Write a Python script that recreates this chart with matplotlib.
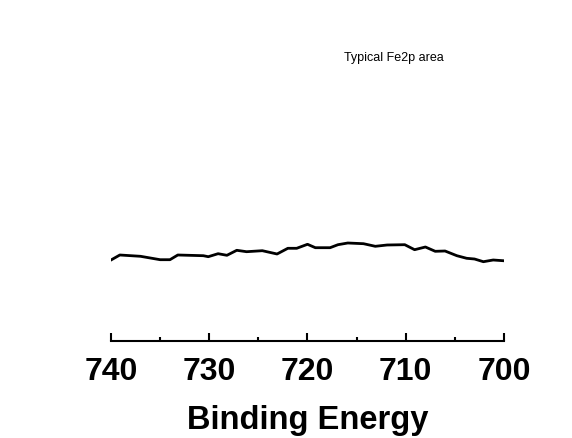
import matplotlib
matplotlib.use("Agg")
import matplotlib.pyplot as plt
from matplotlib.ticker import MultipleLocator

# Fe2p region (binding energy, intensity in arbitrary units)
energy = [740.0, 739.1, 737.0, 735.0, 734.0, 733.2, 730.6, 730.1, 729.1, 728.2,
          727.2, 726.2, 724.6, 723.1, 722.0, 721.1, 720.0, 719.2, 717.7, 716.9,
          715.9, 714.3, 713.1, 711.9, 710.1, 709.1, 708.0, 707.0, 706.0, 704.8,
          703.8, 703.0, 702.1, 701.1, 700.1]
intensity = [81, 86, 84.7, 81.3, 81.3, 86, 85.3, 84.3, 87.3, 85.7,
             90.7, 89.3, 90.3, 87, 92.7, 92.7, 96.7, 93.3, 93.3, 96.3,
             98, 97.3, 94.7, 96, 96.3, 91.3, 94, 89.7, 90, 85.3,
             82.7, 82, 79.3, 81, 80.3]
ticks = [740, 730, 720, 710, 700]

fig = plt.figure(figsize=(5.72, 4.39), dpi=100)
ax = fig.add_axes([111/572, 1-342/439, 393/572, 320/439])
ax.plot(energy, intensity, color="black", lw=2.0)
ax.set_xlim(740, 700)
ax.set_ylim(0, 320)

for s in ["top", "left", "right"]:
    ax.spines[s].set_visible(False)
ax.spines["bottom"].set_linewidth(1.5)
ax.set_yticks([])
ax.set_xticks(ticks)
ax.xaxis.set_minor_locator(MultipleLocator(5))
ax.tick_params(axis="x", which="major", direction="in", length=6, width=1.5,
               labelsize=23, pad=11)
ax.tick_params(axis="x", which="minor", direction="in", length=3, width=1.5)
for lbl in ax.get_xticklabels():
    lbl.set_fontfamily("Liberation Sans")
    lbl.set_fontweight("bold")
ax.set_xlabel("Binding Energy", fontsize=23.5, fontweight="bold",
              family="Liberation Sans", labelpad=13)

fig.text(394/572, 1-58/439, "Typical Fe2p area", fontsize=9,
         family="Liberation Sans", ha="center", va="center")

fig.savefig("out.png", dpi=100)
